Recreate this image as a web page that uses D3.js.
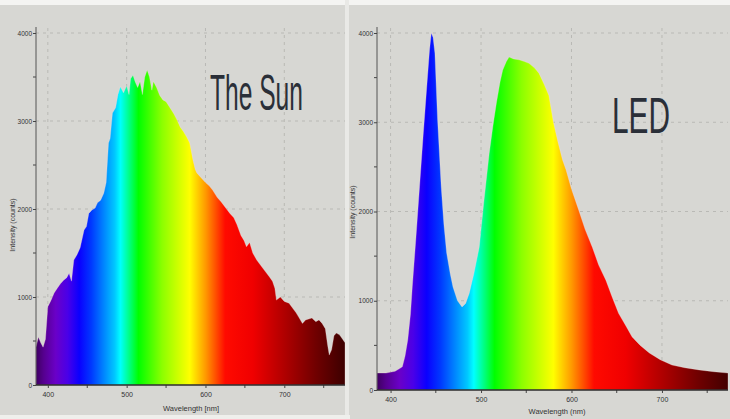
<!DOCTYPE html>
<html><head><meta charset="utf-8">
<script src="https://cdn.jsdelivr.net/npm/d3@7"></script>
<style>html,body{margin:0;padding:0;background:#fff;}svg{display:block;}</style>
</head><body>
<svg id="c" width="730" height="419"></svg>
<script>
// ---- data ----
const sunWavelength = [385,388,391,394,397,400,404,408,412,416,420,424,427,430,433,437,441,446,449,452,456,460,463,467,471,474,477,479,482,486,489,492,496,500,503,505,508,511,514,517,520,523,526,529,532,534,538,542,546,550,555,560,564,568,572,576,580,584,587,589,595,600,605,609,615,620,625,631,636,640,645,649,652,656,660,665,670,675,681,685,688,690,695,700,706,710,715,719,723,727,731,735,740,744,748,752,755,757,760,763,766,770,774,777];
const sunIntensity = [430,545,480,430,520,890,960,1045,1100,1150,1190,1220,1270,1180,1420,1480,1560,1760,1800,1950,1990,2010,2070,2100,2180,2300,2750,2800,3090,3150,3300,3390,3320,3400,3300,3480,3520,3440,3380,3450,3300,3500,3580,3500,3350,3450,3380,3290,3240,3220,3150,3080,3010,2930,2880,2820,2750,2560,2450,2410,2350,2300,2260,2215,2130,2080,2020,1950,1900,1820,1700,1640,1570,1620,1500,1420,1360,1300,1230,1180,1100,965,1000,950,930,880,820,760,700,740,750,760,720,740,700,640,450,340,400,560,590,570,520,480];
const ledWavelength = [385,395,405,410,413,416,419,422,424,428,432,436,440,443,445,447,449,452,456,459,462,466,469,474,479,483,487,492,498,503,509,513,517,521,524,528,531,536,542,548,553,559,564,570,575,580,585,590,594,600,608,615,623,630,638,645,652,660,667,676,686,698,711,725,741,757,773];
const ledIntensity = [190,190,210,240,260,380,560,850,1155,1700,2275,2850,3395,3800,4000,3950,3775,3025,2275,1850,1535,1300,1155,1000,930,970,1085,1300,1600,2100,2650,2950,3215,3450,3585,3680,3730,3710,3700,3680,3660,3610,3550,3420,3300,3000,2780,2580,2465,2250,2015,1800,1600,1400,1230,1040,860,720,595,500,415,340,280,250,225,205,190];
const yTicks = [0,1000,2000,3000,4000];
const xTicks = [400,500,600,700];
const titles = ["The Sun","LED"];
const xLabels = ["Wavelength [nm]","Wavelength (nm)"];
const yLabel = "Intensity (counts)";

// spectrum colour stops (style)
const specNm  = [380,395,410,425,440,455,470,485,492,505,515,545,580,600,625,660,700,740,780];
const specCol = ["#33004a","#560090","#6a00c8","#4a00e8","#0a00ff","#0038ff","#0080ff","#00c8ff","#00ffff","#00ff70","#00ff00","#8cff00","#ffff00","#ff9a00","#ff0a00","#f00000","#b00000","#700000","#380000"];

const svg = d3.select("#c");
svg.append("rect").attr("width",730).attr("height",419).attr("fill","#d7d7d3");
svg.append("rect").attr("width",730).attr("height",5).attr("fill","#f4f4f2");
svg.append("rect").attr("x",345).attr("y",0).attr("width",4).attr("height",419).attr("fill","#e9e9e6");
svg.append("rect").attr("y",415).attr("width",350).attr("height",4).attr("fill","#efefec");
const defs = svg.append("defs");
const FONT = "Liberation Sans, Arial, sans-serif";

function panel(idx, wl, val, xr, yr, titleX, titleY, titleW, ylx, yly, xlx, xly) {
  const x = d3.scaleLinear().domain([wl[0], wl[wl.length-1]]).range(xr);
  const y = d3.scaleLinear().domain([0,4000]).range(yr);
  const g = svg.append("g");
  // grid
  g.selectAll(".hg").data(yTicks.filter(d=>d>0)).join("line")
    .attr("x1",xr[0]).attr("x2",xr[1]).attr("y1",d=>y(d)).attr("y2",d=>y(d))
    .attr("stroke","#b9b9b5").attr("stroke-width",1).attr("stroke-dasharray","3,4");
  g.selectAll(".vg").data(xTicks).join("line")
    .attr("x1",d=>x(d)).attr("x2",d=>x(d)).attr("y1",yr[1]-5).attr("y2",yr[0])
    .attr("stroke","#b9b9b5").attr("stroke-width",1).attr("stroke-dasharray","3,4");
  // gradient
  const gid = "spec"+idx;
  const grad = defs.append("linearGradient").attr("id",gid)
    .attr("gradientUnits","userSpaceOnUse")
    .attr("x1",x(380)).attr("x2",x(780)).attr("y1",0).attr("y2",0);
  specNm.forEach((n,i)=>grad.append("stop").attr("offset",(n-380)/400).attr("stop-color",specCol[i]));
  const pts = wl.map((w,i)=>[w,val[i]]);
  const area = d3.area().x(d=>x(d[0])).y0(y(0)).y1(d=>y(d[1]));
  g.append("path").datum(pts).attr("d",area).attr("fill",`url(#${gid})`)
    .attr("stroke","rgba(255,225,225,0.35)").attr("stroke-width",0.8);
  // minor ticks (no labels)
  const minorY = d3.range(500,4000,1000);
  g.selectAll(".my").data(minorY).join("line")
    .attr("x1",xr[0]-3).attr("x2",xr[0]).attr("y1",d=>y(d)).attr("y2",d=>y(d)).attr("stroke","#444");
  const minorX = d3.range(450,751,100);
  g.selectAll(".mx").data(minorX).join("line")
    .attr("x1",d=>x(d)).attr("x2",d=>x(d)).attr("y1",yr[0]).attr("y2",yr[0]+3).attr("stroke","#444");
  // axes
  const ya = d3.axisLeft(y).tickValues(yTicks).tickSize(3).tickPadding(1).tickFormat(d3.format("d"));
  const yg = g.append("g").attr("transform",`translate(${xr[0]},0)`).call(ya);
  yg.select(".domain").attr("stroke","#555").attr("d",`M0,${yr[0]}V${yr[1]-6}`);
  yg.selectAll("line").attr("stroke","#444");
  yg.selectAll("text").attr("font-family",FONT).attr("font-size",6.5).attr("fill","#333");
  const xa = d3.axisBottom(x).tickValues(xTicks).tickSize(3).tickFormat(d3.format("d"));
  const xg = g.append("g").attr("transform",`translate(0,${yr[0]})`).call(xa);
  xg.select(".domain").attr("stroke","#2b2b2b").attr("stroke-width",1.5).attr("d",`M${xr[0]},0H${xr[1]}`);
  xg.selectAll("line").attr("stroke","#444");
  xg.selectAll("text").attr("font-family",FONT).attr("font-size",7).attr("fill","#333").attr("dy","0.9em");
  // labels
  g.append("text").attr("x",xlx).attr("y",xly).attr("text-anchor","middle")
    .attr("font-family",FONT).attr("font-size",7.5).attr("fill","#333").text(xLabels[idx]);
  g.append("text").attr("transform",`translate(${ylx},${yly}) rotate(-90)`).attr("text-anchor","middle")
    .attr("font-family",FONT).attr("font-size",7).attr("fill","#333").text(yLabel);
  const t = g.append("text").attr("x",0).attr("y",0).attr("font-family",FONT)
    .attr("font-size",50).attr("fill","#2a2f38").text(titles[idx]);
  const natural = t.node().getComputedTextLength();
  t.attr("transform",`translate(${titleX},${titleY}) scale(${titleW/natural},1)`);
}
panel(0, sunWavelength, sunIntensity, [36,345], [385,33], 210, 110, 93, 15, 225, 191, 411);
panel(1, ledWavelength, ledIntensity, [377,728], [390,33], 612, 133, 58, 355, 212, 557, 414);
</script>
</body></html>
